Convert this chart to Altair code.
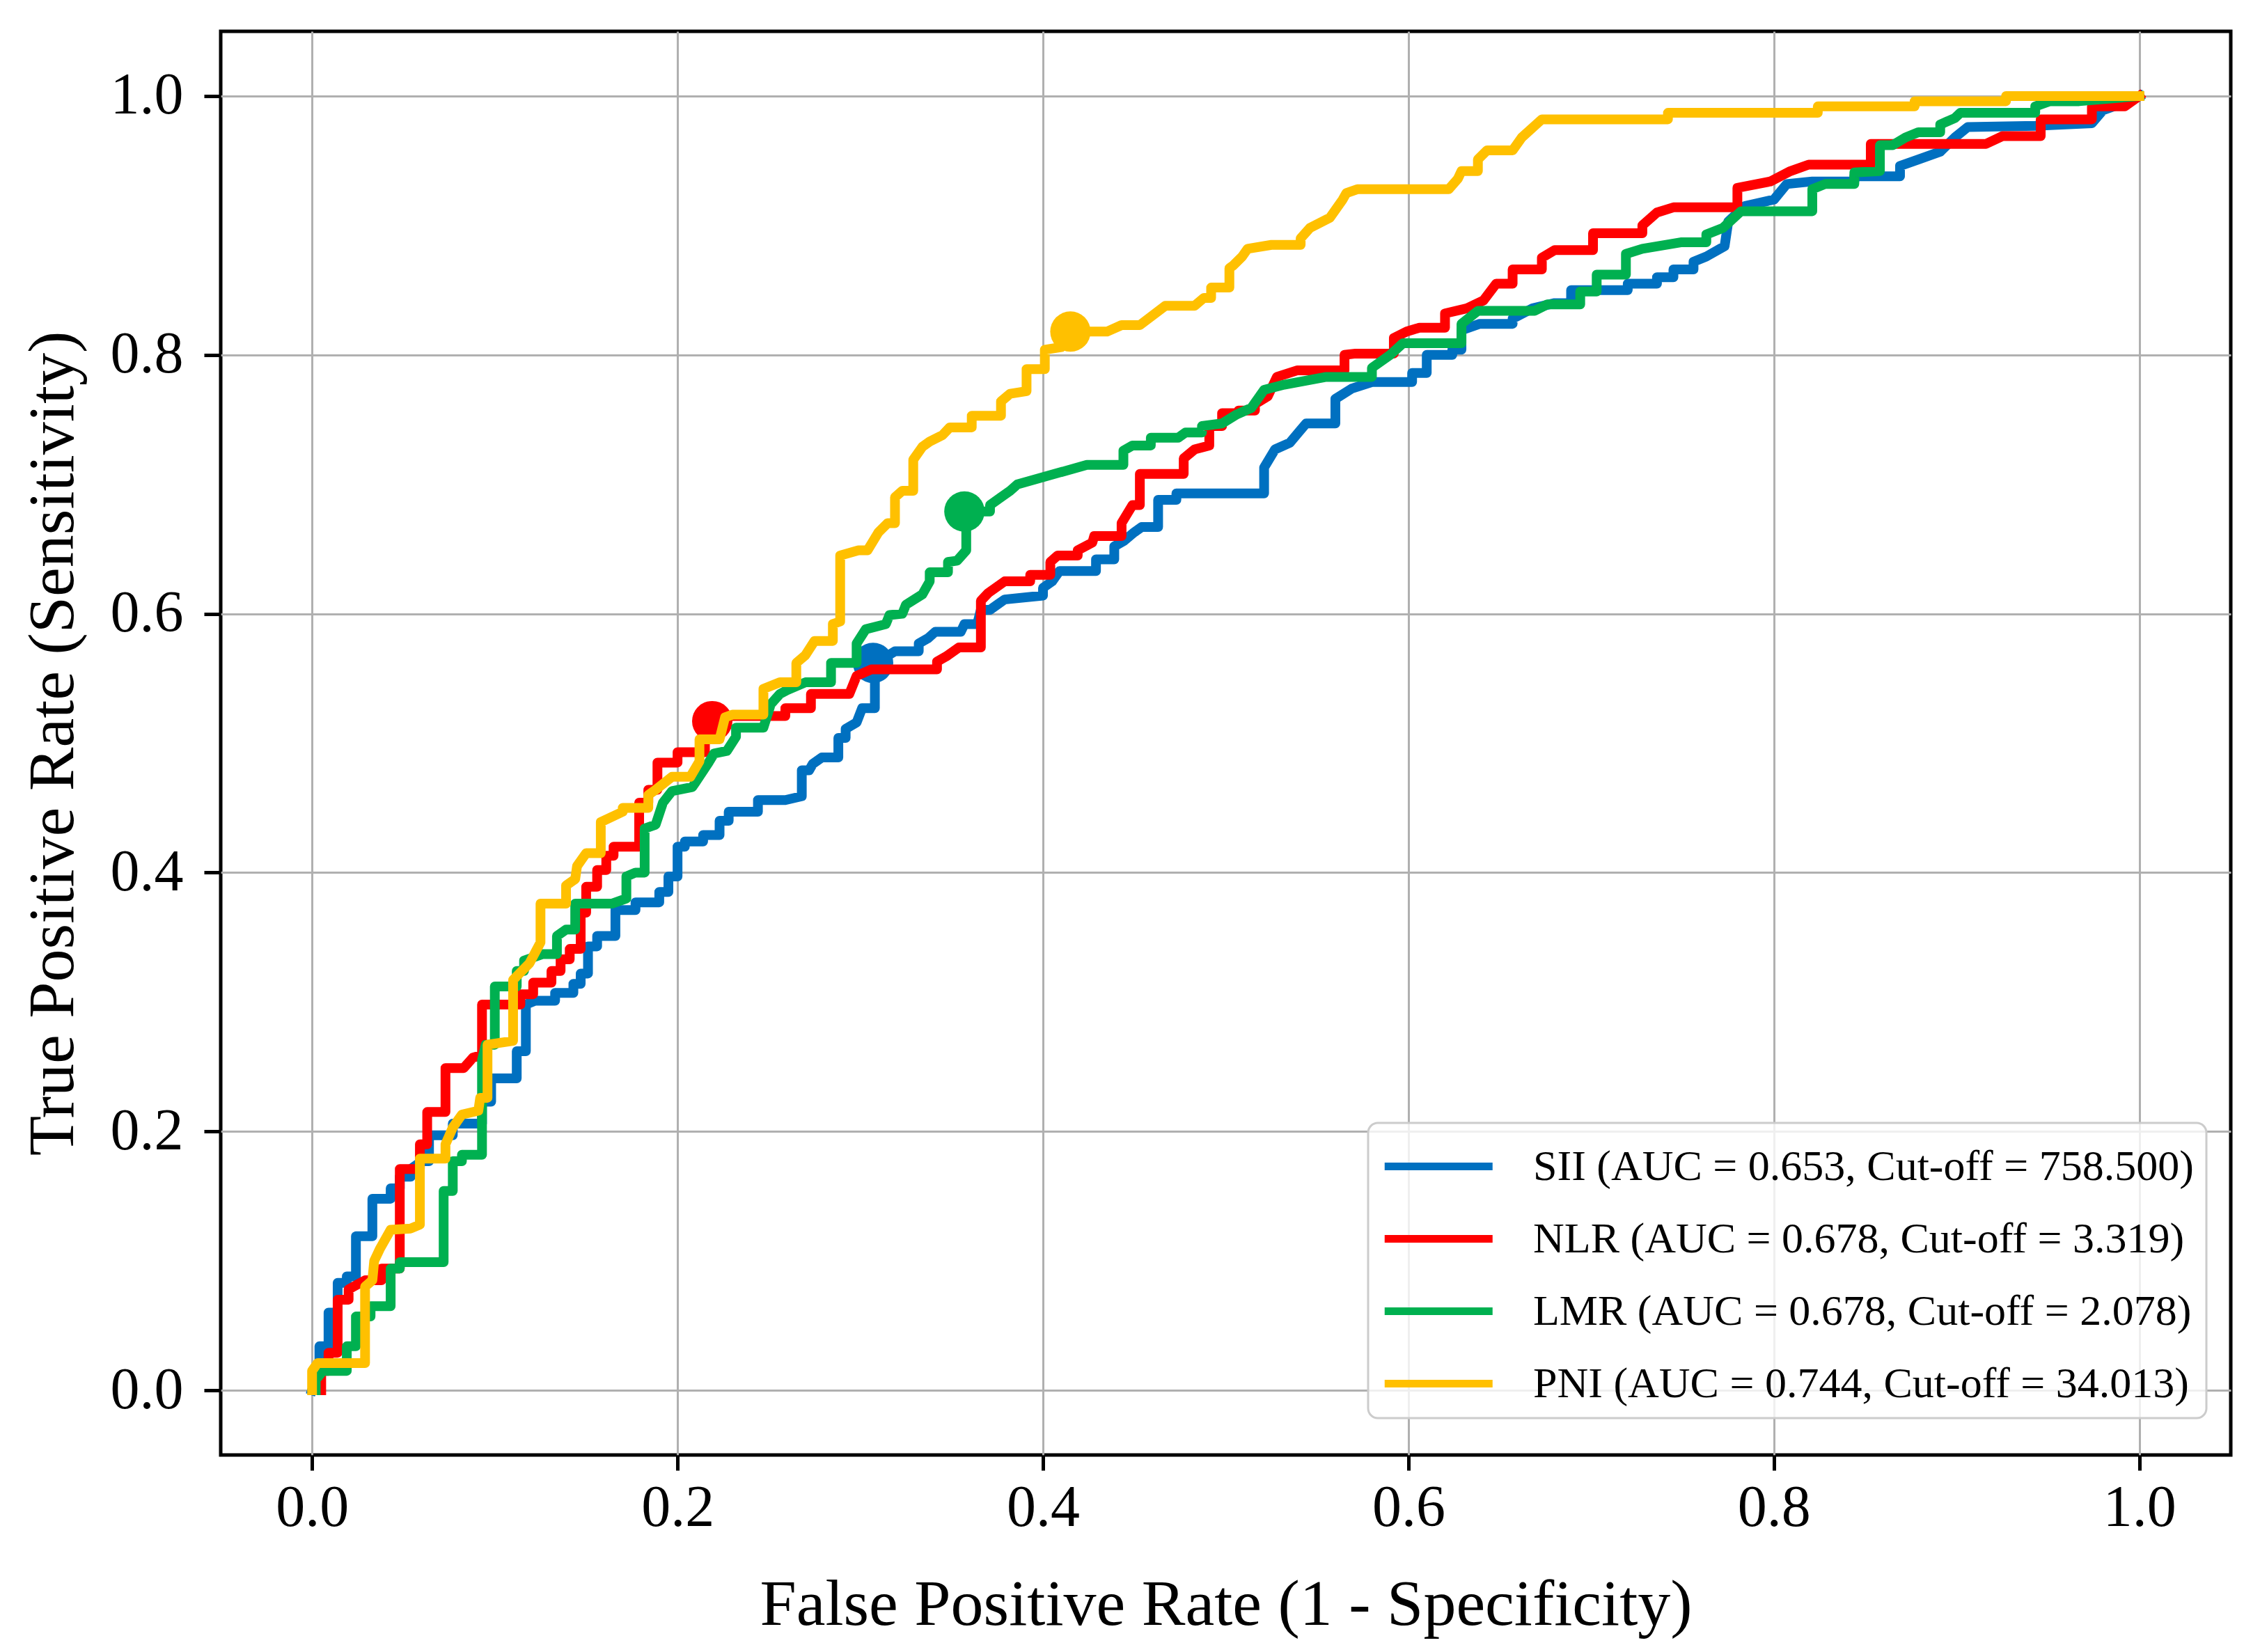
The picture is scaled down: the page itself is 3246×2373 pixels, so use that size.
import altair as alt
import pandas as pd

labels = [
    "SII (AUC = 0.653, Cut-off = 758.500)",
    "NLR (AUC = 0.678, Cut-off = 3.319)",
    "LMR (AUC = 0.678, Cut-off = 2.078)",
    "PNI (AUC = 0.744, Cut-off = 34.013)",
]
colors = ["#0070C0", "#FF0000", "#00B050", "#FFC000"]

sii_fpr = [0, 0.004, 0.004, 0.009, 0.009, 0.014, 0.014, 0.019, 0.019, 0.024, 0.024, 0.033, 0.033, 0.043, 0.043,
           0.048, 0.048, 0.054, 0.054, 0.060, 0.064, 0.064, 0.077, 0.077, 0.093, 0.093, 0.098, 0.098, 0.112, 0.112,
           0.117, 0.117, 0.122, 0.133, 0.133, 0.143, 0.143, 0.147, 0.147, 0.151, 0.151, 0.156, 0.156, 0.166, 0.166,
           0.177, 0.177, 0.190, 0.190, 0.195, 0.195, 0.200, 0.200, 0.204, 0.204, 0.214, 0.214, 0.223, 0.223, 0.228,
           0.228, 0.244, 0.244, 0.259, 0.268, 0.268, 0.272, 0.274, 0.279, 0.288, 0.288, 0.292, 0.292, 0.298, 0.301,
           0.308, 0.308, 0.312, 0.319, 0.332, 0.332, 0.337, 0.341, 0.355, 0.357, 0.364, 0.366, 0.371, 0.375, 0.379,
           0.400, 0.400, 0.405, 0.409, 0.429, 0.429, 0.439, 0.439, 0.444, 0.450, 0.454, 0.463, 0.463, 0.473, 0.473,
           0.521, 0.521, 0.527, 0.535, 0.541, 0.544, 0.560, 0.560, 0.569, 0.580, 0.602, 0.602, 0.610, 0.610, 0.624,
           0.624, 0.629, 0.629, 0.639, 0.657, 0.657, 0.668, 0.680, 0.689, 0.689, 0.720, 0.720, 0.736, 0.736, 0.745,
           0.745, 0.756, 0.756, 0.763, 0.773, 0.775, 0.784, 0.800, 0.807, 0.821, 0.844, 0.844, 0.869, 0.869, 0.879,
           0.891, 0.899, 0.906, 0.943, 0.974, 0.980, 0.988, 1.0]
sii_tpr = [0, 0.015, 0.034, 0.034, 0.060, 0.060, 0.083, 0.083, 0.088, 0.088, 0.119, 0.119, 0.148, 0.148, 0.156,
           0.156, 0.165, 0.165, 0.171, 0.177, 0.177, 0.197, 0.197, 0.206, 0.206, 0.223, 0.223, 0.241, 0.241, 0.262,
           0.262, 0.298, 0.301, 0.301, 0.307, 0.307, 0.314, 0.314, 0.322, 0.322, 0.343, 0.343, 0.351, 0.351, 0.371,
           0.371, 0.377, 0.377, 0.385, 0.385, 0.397, 0.397, 0.420, 0.420, 0.424, 0.424, 0.429, 0.429, 0.440, 0.440,
           0.447, 0.447, 0.456, 0.456, 0.459, 0.479, 0.479, 0.484, 0.489, 0.489, 0.504, 0.504, 0.511, 0.516, 0.527,
           0.527, 0.562, 0.565, 0.571, 0.571, 0.577, 0.581, 0.586, 0.586, 0.592, 0.592, 0.603, 0.603, 0.607, 0.611,
           0.614, 0.620, 0.625, 0.633, 0.633, 0.642, 0.642, 0.652, 0.656, 0.663, 0.667, 0.667, 0.688, 0.688, 0.693,
           0.693, 0.713, 0.727, 0.732, 0.742, 0.747, 0.747, 0.766, 0.774, 0.779, 0.779, 0.786, 0.786, 0.800, 0.800,
           0.804, 0.804, 0.819, 0.824, 0.824, 0.828, 0.836, 0.840, 0.840, 0.850, 0.850, 0.855, 0.855, 0.860, 0.860,
           0.866, 0.866, 0.872, 0.876, 0.884, 0.903, 0.915, 0.920, 0.932, 0.934, 0.934, 0.938, 0.938, 0.946, 0.951,
           0.957, 0.968, 0.976, 0.977, 0.979, 0.989, 0.993, 1.0]

nlr_fpr = [0.005, 0.005, 0.009, 0.009, 0.014, 0.014, 0.020, 0.020, 0.029, 0.038, 0.038, 0.048, 0.048, 0.059, 0.059,
           0.063, 0.063, 0.073, 0.073, 0.083, 0.088, 0.093, 0.093, 0.114, 0.114, 0.121, 0.121, 0.131, 0.131, 0.136,
           0.136, 0.141, 0.141, 0.147, 0.147, 0.150, 0.150, 0.156, 0.156, 0.161, 0.161, 0.165, 0.165, 0.179, 0.179,
           0.184, 0.184, 0.189, 0.189, 0.200, 0.200, 0.215, 0.215, 0.228, 0.259, 0.259, 0.273, 0.273, 0.294, 0.298,
           0.306, 0.342, 0.342, 0.347, 0.354, 0.366, 0.366, 0.370, 0.379, 0.393, 0.393, 0.404, 0.404, 0.408, 0.419,
           0.419, 0.427, 0.428, 0.443, 0.443, 0.449, 0.453, 0.453, 0.477, 0.477, 0.483, 0.491, 0.491, 0.498, 0.498,
           0.507, 0.507, 0.516, 0.516, 0.523, 0.528, 0.539, 0.565, 0.565, 0.571, 0.592, 0.592, 0.599, 0.606, 0.620,
           0.620, 0.632, 0.641, 0.648, 0.657, 0.657, 0.673, 0.673, 0.680, 0.701, 0.701, 0.728, 0.728, 0.736, 0.745,
           0.780, 0.780, 0.798, 0.809, 0.819, 0.853, 0.853, 0.916, 0.925, 0.946, 0.946, 0.974, 0.974, 0.992, 1.0]
nlr_tpr = [0.000, 0.015, 0.015, 0.029, 0.029, 0.070, 0.070, 0.078, 0.085, 0.085, 0.094, 0.094, 0.171, 0.171, 0.190,
           0.190, 0.215, 0.215, 0.249, 0.249, 0.257, 0.259, 0.298, 0.298, 0.306, 0.306, 0.315, 0.315, 0.324, 0.324,
           0.333, 0.333, 0.341, 0.341, 0.369, 0.369, 0.389, 0.389, 0.402, 0.402, 0.413, 0.413, 0.420, 0.420, 0.454,
           0.454, 0.464, 0.464, 0.485, 0.485, 0.493, 0.493, 0.517, 0.521, 0.521, 0.527, 0.527, 0.538, 0.538, 0.552,
           0.557, 0.557, 0.563, 0.567, 0.574, 0.574, 0.610, 0.616, 0.625, 0.625, 0.630, 0.630, 0.640, 0.645, 0.645,
           0.649, 0.655, 0.660, 0.660, 0.670, 0.684, 0.684, 0.708, 0.708, 0.720, 0.727, 0.730, 0.745, 0.745, 0.755,
           0.755, 0.757, 0.757, 0.762, 0.768, 0.783, 0.788, 0.788, 0.800, 0.801, 0.801, 0.813, 0.818, 0.821, 0.821,
           0.832, 0.836, 0.842, 0.855, 0.855, 0.866, 0.866, 0.875, 0.881, 0.881, 0.894, 0.894, 0.900, 0.910, 0.914,
           0.914, 0.929, 0.934, 0.942, 0.947, 0.947, 0.963, 0.963, 0.969, 0.969, 0.982, 0.982, 0.992, 0.992, 1.0]

lmr_fpr = [0.002, 0.002, 0.006, 0.019, 0.019, 0.024, 0.024, 0.032, 0.032, 0.043, 0.043, 0.048, 0.048, 0.072, 0.072,
           0.077, 0.077, 0.082, 0.082, 0.093, 0.093, 0.095, 0.100, 0.100, 0.112, 0.112, 0.116, 0.116, 0.126, 0.134,
           0.134, 0.139, 0.144, 0.144, 0.164, 0.172, 0.172, 0.177, 0.182, 0.182, 0.188, 0.192, 0.197, 0.208, 0.210,
           0.217, 0.220, 0.227, 0.232, 0.232, 0.247, 0.251, 0.256, 0.260, 0.270, 0.284, 0.284, 0.298, 0.298, 0.303,
           0.314, 0.316, 0.323, 0.325, 0.334, 0.338, 0.338, 0.348, 0.348, 0.353, 0.358, 0.358, 0.371, 0.371, 0.377,
           0.382, 0.386, 0.424, 0.444, 0.444, 0.449, 0.459, 0.459, 0.474, 0.478, 0.487, 0.487, 0.498, 0.506, 0.514,
           0.521, 0.532, 0.555, 0.580, 0.580, 0.590, 0.597, 0.629, 0.629, 0.638, 0.669, 0.676, 0.694, 0.694, 0.703,
           0.703, 0.719, 0.719, 0.728, 0.749, 0.763, 0.763, 0.772, 0.782, 0.821, 0.821, 0.828, 0.844, 0.844, 0.858,
           0.858, 0.865, 0.872, 0.879, 0.891, 0.891, 0.899, 0.902, 0.943, 0.943, 0.951, 0.967, 1.0]
lmr_tpr = [0.000, 0.008, 0.015, 0.015, 0.034, 0.034, 0.057, 0.057, 0.065, 0.065, 0.094, 0.094, 0.099, 0.099, 0.154,
           0.154, 0.177, 0.177, 0.182, 0.182, 0.255, 0.267, 0.267, 0.312, 0.312, 0.324, 0.324, 0.332, 0.337, 0.337,
           0.351, 0.356, 0.356, 0.376, 0.376, 0.380, 0.397, 0.400, 0.400, 0.434, 0.437, 0.454, 0.463, 0.466, 0.470,
           0.485, 0.492, 0.494, 0.505, 0.512, 0.512, 0.530, 0.538, 0.541, 0.547, 0.547, 0.562, 0.562, 0.577, 0.588,
           0.592, 0.599, 0.600, 0.607, 0.615, 0.625, 0.632, 0.632, 0.640, 0.641, 0.649, 0.679, 0.679, 0.684, 0.690,
           0.695, 0.700, 0.715, 0.715, 0.726, 0.730, 0.730, 0.736, 0.736, 0.740, 0.740, 0.745, 0.747, 0.754, 0.759,
           0.773, 0.777, 0.783, 0.783, 0.790, 0.800, 0.809, 0.809, 0.824, 0.834, 0.834, 0.839, 0.839, 0.849, 0.849,
           0.862, 0.862, 0.878, 0.882, 0.887, 0.887, 0.893, 0.898, 0.911, 0.911, 0.928, 0.932, 0.932, 0.941, 0.942,
           0.962, 0.962, 0.968, 0.972, 0.972, 0.978, 0.983, 0.987, 0.987, 0.992, 0.996, 0.996, 1.0]

pni_fpr = [0.000, 0.000, 0.003, 0.029, 0.029, 0.033, 0.034, 0.037, 0.043, 0.054, 0.059, 0.059, 0.073, 0.073, 0.077,
           0.082, 0.091, 0.092, 0.096, 0.096, 0.110, 0.110, 0.119, 0.125, 0.125, 0.139, 0.139, 0.144, 0.145, 0.150,
           0.158, 0.158, 0.170, 0.170, 0.184, 0.184, 0.188, 0.197, 0.207, 0.212, 0.212, 0.223, 0.226, 0.230, 0.247,
           0.247, 0.256, 0.265, 0.265, 0.270, 0.275, 0.285, 0.285, 0.289, 0.289, 0.299, 0.304, 0.310, 0.315, 0.319,
           0.319, 0.323, 0.329, 0.329, 0.334, 0.338, 0.345, 0.349, 0.361, 0.361, 0.377, 0.377, 0.382, 0.391, 0.391,
           0.401, 0.401, 0.410, 0.415, 0.435, 0.443, 0.453, 0.467, 0.483, 0.488, 0.492, 0.492, 0.502, 0.502, 0.504,
           0.509, 0.512, 0.525, 0.541, 0.541, 0.546, 0.557, 0.564, 0.566, 0.572, 0.622, 0.627, 0.629, 0.638, 0.638,
           0.643, 0.657, 0.662, 0.673, 0.742, 0.742, 0.824, 0.824, 0.877, 0.877, 0.927, 0.927, 1.0]
pni_tpr = [0.000, 0.015, 0.021, 0.021, 0.080, 0.085, 0.100, 0.109, 0.124, 0.125, 0.128, 0.179, 0.179, 0.190, 0.203,
           0.213, 0.216, 0.226, 0.226, 0.267, 0.270, 0.317, 0.330, 0.346, 0.376, 0.376, 0.390, 0.395, 0.405, 0.415,
           0.415, 0.439, 0.447, 0.450, 0.450, 0.460, 0.464, 0.474, 0.474, 0.486, 0.503, 0.503, 0.520, 0.522, 0.522,
           0.542, 0.547, 0.547, 0.562, 0.568, 0.579, 0.579, 0.592, 0.594, 0.645, 0.649, 0.649, 0.663, 0.670, 0.670,
           0.690, 0.695, 0.695, 0.719, 0.729, 0.733, 0.738, 0.744, 0.744, 0.753, 0.753, 0.764, 0.770, 0.772, 0.789,
           0.789, 0.804, 0.806, 0.818, 0.818, 0.823, 0.823, 0.838, 0.838, 0.844, 0.844, 0.852, 0.852, 0.867, 0.869,
           0.876, 0.882, 0.885, 0.885, 0.890, 0.898, 0.906, 0.920, 0.925, 0.928, 0.928, 0.936, 0.942, 0.942, 0.951,
           0.958, 0.958, 0.968, 0.982, 0.982, 0.987, 0.987, 0.992, 0.992, 0.996, 0.996, 1.0, 1.0]

cut_fpr = [0.307, 0.219, 0.357, 0.415]
cut_tpr = [0.562, 0.517, 0.679, 0.818]

tick_values = [0.0, 0.2, 0.4, 0.6, 0.8, 1.0]

series_fpr = [sii_fpr, nlr_fpr, lmr_fpr, pni_fpr]
series_tpr = [sii_tpr, nlr_tpr, lmr_tpr, pni_tpr]

rows = []
for lab, fx, ty in zip(labels, series_fpr, series_tpr):
    for i, (a, b) in enumerate(zip(fx, ty)):
        rows.append({"series": lab, "i": i, "fpr": a, "tpr": b})
df = pd.DataFrame(rows)
cut_df = pd.DataFrame({"series": labels, "fpr": cut_fpr, "tpr": cut_tpr})

FONT = "Liberation Serif"
xscale = alt.Scale(domain=[-0.05, 1.05], nice=False, zero=False)
yscale = alt.Scale(domain=[-0.05, 1.05], nice=False, zero=False)

xaxis = alt.Axis(values=tick_values, format=".1f", title="False Positive Rate (1 - Specificity)",
                 labelFontSize=84, titleFontSize=94, labelPadding=13, tickSize=22,
                 titleY=243, titleBaseline="alphabetic")
yaxis = alt.Axis(values=tick_values, format=".1f", title="True Positive Rate (Sensitivity)",
                 labelFontSize=84, titleFontSize=94, labelPadding=30, tickSize=24,
                 titleX=-213, titleBaseline="alphabetic")

legend = alt.Legend(title=None, orient="none", legendX=1648, legendY=1568,
                    symbolType="M-1,0L3,0", symbolSize=6006, symbolStrokeWidth=11,
                    labelFont=FONT, labelFontSize=62, labelOffset=130, labelLimit=3000,
                    rowPadding=28, padding=18, fillColor="rgba(255,255,255,0.8)",
                    strokeColor="#cccccc", cornerRadius=14)

color_scale = alt.Scale(domain=labels, range=colors)

layers = []
for lab, col in zip(labels, colors):
    line = alt.Chart(df).transform_filter(alt.datum.series == lab).mark_line(
        strokeWidth=14, strokeJoin="round", strokeCap="square"
    ).encode(
        x=alt.X("fpr:Q", scale=xscale, axis=xaxis),
        y=alt.Y("tpr:Q", scale=yscale, axis=yaxis),
        color=alt.Color("series:N", scale=color_scale, legend=legend),
        order=alt.Order("i:Q"),
    )
    pt = alt.Chart(cut_df).transform_filter(alt.datum.series == lab).mark_circle(
        size=3364, opacity=1, color=col
    ).encode(
        x=alt.X("fpr:Q", scale=xscale, axis=xaxis),
        y=alt.Y("tpr:Q", scale=yscale, axis=yaxis),
    )
    layers += [line, pt]

chart = alt.layer(*layers).properties(
    width=2887, height=2045,
    autosize=alt.AutoSizeParams(type="none"),
    padding={"left": 309, "top": 37, "right": 30, "bottom": 275},
    background="white",
).configure(font=FONT).configure_view(
    stroke="black", strokeWidth=5
).configure_axis(
    labelFont=FONT, titleFont=FONT, labelColor="black", titleColor="black",
    titleFontWeight="normal", domain=False, tickColor="black", tickWidth=5,
    grid=True, gridColor="#b0b0b0", gridWidth=3,
).configure_legend(strokeWidth=3)

chart.save("out.html", embed_options={"renderer": "svg", "actions": False})
